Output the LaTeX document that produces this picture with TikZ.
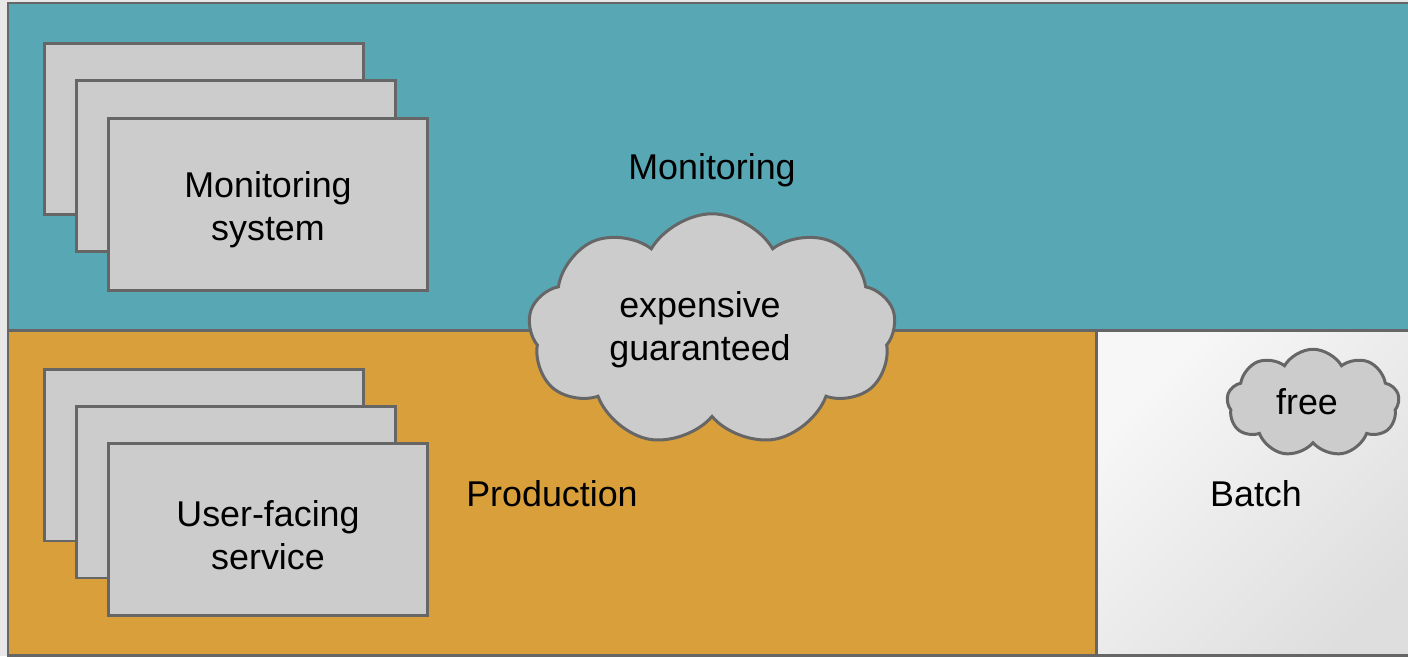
\documentclass[tikz,border=0pt]{standalone}
\usepackage{fontspec}
\setmainfont{Liberation Sans}
\usetikzlibrary{shapes.symbols}
\definecolor{tealz}{RGB}{88,167,181}
\definecolor{orangez}{RGB}{216,159,58}
\definecolor{boxg}{RGB}{204,204,204}
\definecolor{edgeg}{RGB}{102,102,102}
\definecolor{bgg}{RGB}{232,232,232}
\tikzset{
  zone/.style={draw=edgeg, line width=1.7pt},
  card/.style={draw=edgeg, fill=boxg, line width=1.7pt, minimum width=6.4cm, minimum height=3.44cm, inner sep=0pt, align=center, font=\fontsize{20.4}{24.4}\selectfont},
  lbl/.style={font=\fontsize{20.4}{24.4}\selectfont, inner sep=0pt},
  puff/.style={cloud, draw=edgeg, fill=boxg, line width=1.7pt, align=center, inner sep=0pt, font=\fontsize{20.4}{24.4}\selectfont}
}
\begin{document}
\begin{tikzpicture}[x=0.02cm, y=-0.02cm]
\useasboundingbox (0,0) rectangle (1408,656);
\fill[bgg] (0,0) rectangle (1408,656);
\begin{scope}
\clip (0,0) rectangle (1408,656);
\filldraw[zone, fill=tealz] (8,3) rectangle (1430,330);
\filldraw[zone, fill=orangez] (8,330) rectangle (1096,655);
\shade[left color=white!97!black, right color=white!87!black, shading angle=45] (1096,330) rectangle (1430,655);
\draw[zone] (1096,330) rectangle (1430,655);
\end{scope}
% monitoring stack
\node[card] (m1) at (204,129) {};
\node[card] (m2) at (236,166) {};
\node[card] (m3) at (268,204.5) {};
\node[lbl, align=center] (m3t) at (268,210) {Monitoring\\system};
% production stack
\node[card] (p1) at (204,455) {};
\node[card] (p2) at (236,492) {};
\node[card] (p3) at (268,529.5) {};
\node[lbl, align=center] (p3t) at (268,535) {User-facing\\service};
% labels
\node[lbl] (lmon) at (712,170) {Monitoring};
\node[lbl] (lprod) at (552,494) {Production};
\node[lbl] (lbatch) at (1256,494) {Batch};
% clouds
\node[puff, cloud puffs=9, cloud puff arc=120, aspect=1.6, minimum width=7.35cm, minimum height=4.65cm] (c1) at (712,330) {};
\node[lbl, align=center] (c1t) at (700,330) {expensive\\guaranteed};
\node[puff, cloud puffs=9, cloud puff arc=120, aspect=1.6, minimum width=3.45cm, minimum height=2.15cm] (c2) at (1313,403) {};
\node[lbl] (c2t) at (1307,402) {free};
\end{tikzpicture}
\end{document}
